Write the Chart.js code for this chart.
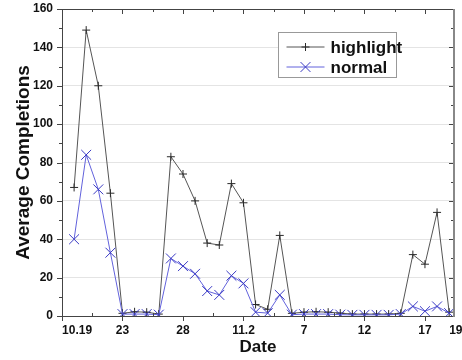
<!DOCTYPE html>
<html><head><meta charset="utf-8">
<script src="https://cdn.jsdelivr.net/npm/chart.js@4/dist/chart.umd.min.js"></script>
<style>html,body{margin:0;padding:0;background:#fff}</style>
</head><body>
<canvas id="c" width="462" height="360"></canvas>
<script>
// ---- data ----
const dates = ['10.19','10.20','10.21','10.22','10.23','10.24','10.25','10.26','10.27','10.28','10.29','10.30','10.31',
  '11.1','11.2','11.3','11.4','11.5','11.6','11.7','11.8','11.9','11.10','11.11','11.12','11.13','11.14','11.15','11.16','11.17','11.18','11.19'];
const highlight = [67,149,120,64,1.4,2.2,2,1,83,74,60,38,37,69,59,6,3.5,42,1.4,2,2.2,2,1.5,1,1,1,1,1.4,32,27,54,2];
const normal    = [40,84,66,33,1,1,1,0.7,30,26,22,13,11,21,17,2,1.5,11,0.7,1,1,1,0.7,0.6,0.6,0.6,0.6,1,5,2.5,5,1.5];
const xTickIndex  = [0.25,4,9,14,19,24,29,31.55];
const xTickLabels = ['10.19','23','28','11.2','7','12','17','19'];
const seriesNames = ['highlight','normal'];

const FONT = "'Liberation Sans', Arial, Helvetica, sans-serif";

function mk(label, values, markColor, lineColor, style, r, order){
  return {label, data: values.map((v,i)=>({x:i, y:v, date: dates[i]})),
    borderColor: lineColor, backgroundColor: markColor, borderWidth: 1,
    pointStyle: style, pointRadius: r, pointHoverRadius: r, pointBorderColor: markColor,
    pointBorderWidth: 1, tension: 0, fill: false, order};
}

const framePlugin = {
  id: 'frame',
  afterDatasetsDraw(chart){
    const {ctx, chartArea: a, scales: {x, y}} = chart;
    ctx.save();
    ctx.lineWidth = 1;
    // x ticks (major every 5 days, minor every 2.5)
    let k = 0;
    for (let v = x.min; v <= x.max + 1e-6; v += 2.5, k++) {
      const major = k % 2 === 0;
      const px = Math.round(x.getPixelForValue(v)) + 0.5;
      ctx.strokeStyle = '#444';
      ctx.beginPath();
      if (major) { ctx.moveTo(px, a.bottom); ctx.lineTo(px, a.bottom + 5); }
      else { ctx.moveTo(px, a.bottom); ctx.lineTo(px, a.bottom - 3); }
      ctx.moveTo(px, a.top); ctx.lineTo(px, a.top + (major ? 5 : 3));
      ctx.stroke();
    }
    k = 0;
    for (let v = y.min; v <= y.max + 1e-6; v += 10, k++) {
      const major = k % 2 === 0;
      const py = Math.round(y.getPixelForValue(v)) + 0.5;
      ctx.strokeStyle = '#444';
      ctx.beginPath();
      ctx.moveTo(a.left, py); ctx.lineTo(a.left - (major ? 5 : 3), py);
      ctx.moveTo(a.right, py); ctx.lineTo(a.right - (major ? 5 : 3), py);
      ctx.stroke();
    }
    ctx.strokeStyle = '#444';
    ctx.beginPath();
    ctx.moveTo(Math.round(a.left)+0.5, Math.round(a.bottom)+0.5);
    ctx.lineTo(Math.round(a.left)+0.5, Math.round(a.top)+0.5);
    ctx.lineTo(Math.round(a.right), Math.round(a.top)+0.5);
    ctx.moveTo(Math.round(a.left)+0.5, Math.round(a.bottom)+0.5);
    ctx.lineTo(Math.round(a.right), Math.round(a.bottom)+0.5);
    ctx.stroke();
    ctx.strokeStyle = '#888';
    ctx.lineWidth = 2;
    ctx.beginPath();
    ctx.moveTo(Math.round(a.right), a.top);
    ctx.lineTo(Math.round(a.right), a.bottom + 1);
    ctx.stroke();
    ctx.restore();
  }
};

const legendPlugin = {
  id: 'boxLegend',
  afterDraw(chart){
    const {ctx, chartArea: a} = chart;
    const bx = Math.round(a.left + 0.55 * (a.right - a.left)) + 0.5;
    const by = Math.round(a.top + 0.075 * (a.bottom - a.top)) + 0.5;
    const bw = 118, bh = 45;
    ctx.save();
    ctx.fillStyle = '#fff';
    ctx.fillRect(bx, by, bw, bh);
    ctx.strokeStyle = '#999';
    ctx.lineWidth = 1;
    ctx.strokeRect(bx, by, bw, bh);
    chart.data.datasets.forEach((d, i) => {
      const cy = by + 14.5 + i * 20;
      ctx.strokeStyle = d.borderColor;
      ctx.lineWidth = 1;
      ctx.beginPath(); ctx.moveTo(bx + 8, cy); ctx.lineTo(bx + 46, cy); ctx.stroke();
      ctx.strokeStyle = d.pointBorderColor;
      ctx.fillStyle = d.pointBorderColor;
      Chart.helpers.drawPoint(ctx, {pointStyle: d.pointStyle, radius: d.pointRadius, rotation: 0, borderWidth: 1}, bx + 27, cy);
      ctx.fillStyle = '#111';
      ctx.font = 'bold 17px ' + FONT;
      ctx.textBaseline = 'middle';
      ctx.textAlign = 'left';
      ctx.fillText(d.label, bx + 52, cy + 1);
    });
    ctx.restore();
  }
};

new Chart(document.getElementById('c'), {
  type: 'line',
  data: {
    datasets: [
      mk(seriesNames[0], highlight, '#2a2a2a', '#555555', 'cross', 4, 1),
      mk(seriesNames[1], normal, '#3a3ac4', '#6262dc', 'crossRot', 7, 0)
    ]
  },
  options: {
    responsive: false, animation: false, devicePixelRatio: 1,
    layout: {padding: {top: 9, right: 6, left: 0, bottom: 0}},
    plugins: {legend: {display: false}, tooltip: {enabled: false}},
    scales: {
      x: {
        type: 'linear', min: -1, max: 31.4,
        grid: {display: false, drawTicks: false},
        border: {display: false},
        afterBuildTicks: s => { s.ticks = xTickIndex.map(v => ({value: v})); },
        ticks: {autoSkip: false, maxRotation: 0, minRotation: 0, padding: 7, color: '#111',
          font: {family: FONT, size: 12, weight: 'bold'},
          callback: (v) => xTickLabels[xTickIndex.indexOf(v)]},
        title: {display: true, text: 'Date', color: '#111', font: {family: FONT, size: 17, weight: 'bold'}, padding: {top: 0, bottom: 2}},
        afterFit: s => { s.height = 44; s.paddingLeft = 0; s.paddingRight = 0; }
      },
      y: {
        min: 0, max: 160,
        grid: {color: '#e4e4e4', drawTicks: false, lineWidth: 1},
        border: {display: false},
        ticks: {stepSize: 20, padding: 9, color: '#111', font: {family: FONT, size: 12, weight: 'bold'}},
        title: {display: true, text: 'Average Completions', color: '#111', font: {family: FONT, size: 19, weight: 'bold'}, padding: {top: 12, bottom: 0}},
        afterFit: s => { s.width = 62; s.paddingTop = 0; s.paddingBottom = 0; }
      }
    }
  },
  plugins: [framePlugin, legendPlugin]
});
</script>
</body></html>
